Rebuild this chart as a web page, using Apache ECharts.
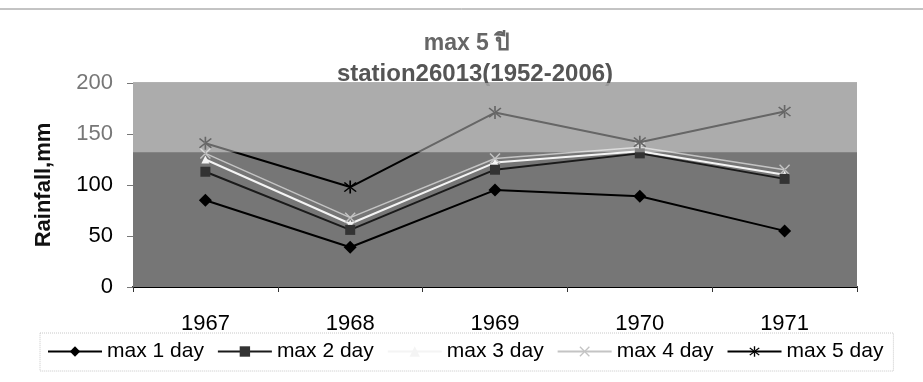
<!DOCTYPE html>
<html>
<head>
<meta charset="utf-8">
<script src="https://cdn.jsdelivr.net/npm/echarts@6/dist/echarts.min.js"></script>
<style>
html,body{margin:0;padding:0;background:#fff;}
#c{width:923px;height:382px;}
</style>
</head>
<body>
<div id="c"></div>
<script>
var categories = ['1967', '1968', '1969', '1970', '1971'];
var yTicks = [0, 50, 100, 150, 200];
var max1 = [85, 39, 95, 89, 55];
var max2 = [113, 56, 115, 131, 106];
var max3 = [125, 62, 122, 133, 110];
var max4 = [131, 68, 126, 137, 115];
var max5 = [141, 98, 171, 142, 172];
var bandSplit = 132;

var FONT = '"Liberation Sans", Arial, "Noto Sans", sans-serif';
var starPath = 'path://M-1,-10 L1,-10 L1,10 L-1,10 Z M6.36,7.78 L7.78,6.36 L-6.36,-7.78 L-7.78,-6.36 Z M-6.36,7.78 L-7.78,6.36 L6.36,-7.78 L7.78,-6.36 Z';
var crossPath = 'path://M6.36,7.78 L7.78,6.36 L-6.36,-7.78 L-7.78,-6.36 Z M-6.36,7.78 L-7.78,6.36 L6.36,-7.78 L7.78,-6.36 Z';

var chart = echarts.init(document.getElementById('c'), null, {renderer: 'canvas'});
chart.setOption({
  animation: false,
  backgroundColor: '#fff',
  textStyle: {fontFamily: FONT},
  title: [
    {text: 'max 5 ปี', left: 462, top: 27, textAlign: 'center',
     textStyle: {fontSize: 23, fontWeight: 'bold', color: '#666', fontFamily: FONT}},
    {text: 'station26013(1952-2006)', left: 470, top: 57, textAlign: 'center',
     textStyle: {fontSize: 24, fontWeight: 'bold', color: '#555', fontFamily: FONT}}
  ],
  graphic: [
    {type: 'line', shape: {x1: 0, y1: 9, x2: 923, y2: 9}, style: {stroke: '#888', lineWidth: 1}}
  ],
  grid: {left: 133, right: 66, top: 83, bottom: 95},
  legend: {
    left: 40, top: 333, right: 13,
    padding: [8, 10, 9, 7],
    borderColor: '#c8c8c8', borderWidth: 1, borderType: 'dotted',
    itemWidth: 54, itemHeight: 13, itemGap: 13,
    textStyle: {fontSize: 21, color: '#000', fontFamily: FONT},
    data: ['max 1 day', 'max 2 day', 'max 3 day', 'max 4 day', 'max 5 day']
  },
  xAxis: {
    type: 'category', data: categories, boundaryGap: true,
    axisLine: {show: true, lineStyle: {color: '#000', width: 2}},
    axisTick: {show: true, length: 5, lineStyle: {color: '#333'}},
    axisLabel: {fontSize: 22, color: '#000', margin: 26, fontFamily: FONT},
    splitLine: {show: false}
  },
  yAxis: {
    type: 'value', min: yTicks[0], max: yTicks[yTicks.length - 1], interval: yTicks[1] - yTicks[0],
    name: 'Rainfall,mm', nameLocation: 'middle', nameGap: 78, nameRotate: 90,
    nameTextStyle: {fontSize: 22, fontWeight: 'bold', color: '#111', fontFamily: FONT},
    axisLine: {show: false},
    axisTick: {show: true, length: 6, lineStyle: {color: '#777'}},
    axisLabel: {fontSize: 22, margin: 20, fontFamily: FONT,
      color: function (v) { return Number(v) > bandSplit ? '#777' : '#000'; }},
    splitLine: {show: true, lineStyle: {color: ['#222', '#111', '#111', '#e6e6e6', '#999'], width: 1.5}}
  },
  series: [
    {
      name: 'bg', type: 'line', data: [], z: -1, silent: true,
      markArea: {silent: true, itemStyle: {color: '#767676'},
        data: [[{yAxis: yTicks[0]}, {yAxis: yTicks[yTicks.length - 1]}]]}
    },
    {
      name: 'max 1 day', type: 'line', data: max1, z: 5,
      symbol: 'diamond', symbolSize: 13,
      lineStyle: {color: '#000', width: 2}, itemStyle: {color: '#000'}
    },
    {
      name: 'max 2 day', type: 'line', data: max2, z: 4,
      symbol: 'rect', symbolSize: 10,
      lineStyle: {color: '#1a1a1a', width: 2}, itemStyle: {color: '#333'}
    },
    {
      name: 'max 3 day', type: 'line', data: max3, z: 3,
      symbol: 'triangle', symbolSize: 8,
      lineStyle: {color: '#f4f4f4', width: 2}, itemStyle: {color: '#f4f4f4'}
    },
    {
      name: 'max 4 day', type: 'line', data: max4, z: 3,
      symbol: crossPath, symbolSize: 11,
      lineStyle: {color: '#c4c4c4', width: 1.5}, itemStyle: {color: '#c4c4c4'}
    },
    {
      name: 'max 5 day', type: 'line', data: max5, z: 4,
      symbol: starPath, symbolSize: 13,
      lineStyle: {color: '#000', width: 2}, itemStyle: {color: '#000'}
    },
    {
      name: 'overlay', type: 'custom', z: 50, silent: true,
      data: [[bandSplit, yTicks[yTicks.length - 1]]],
      renderItem: function (params, api) {
        var lo = api.coord([0, api.value(0)]);
        var hi = api.coord([0, api.value(1)]);
        var cs = params.coordSys;
        return {
          type: 'rect',
          shape: {x: cs.x, y: hi[1], width: cs.width, height: lo[1] - hi[1]},
          style: {fill: 'rgba(255,255,255,0.4)'}
        };
      }
    }
  ]
});
</script>
</body>
</html>
